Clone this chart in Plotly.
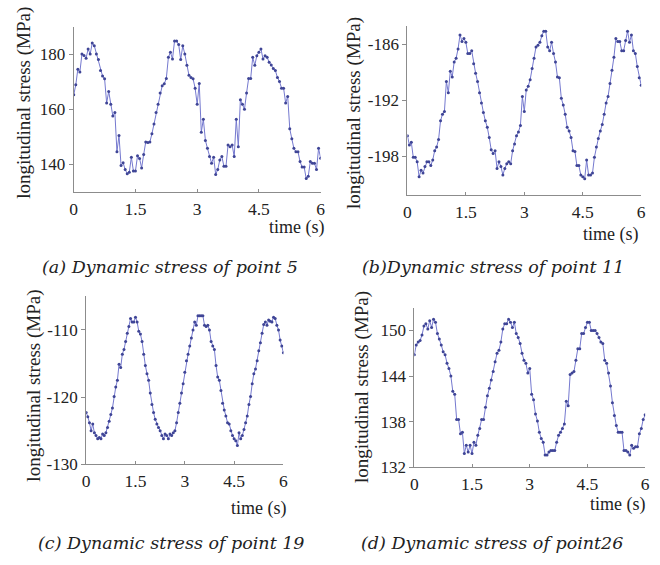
import plotly.graph_objects as go

# sampling: 0.05 s steps, 0 .. 6 s
time_s = [round(i * 0.05, 2) for i in range(121)]

stress_p5 = [
    165.2, 168.8, 174.5, 173.5, 180.0, 179.5, 178.5, 181.8, 180.0, 184.0,
    183.0, 180.0, 178.0, 174.0, 172.0, 171.0, 162.2, 166.4, 161.7, 157.5,
    158.7, 144.5, 150.4, 139.5, 140.5, 138.0, 136.5, 137.0, 142.5, 137.5,
    137.5, 143.0, 142.0, 138.6, 143.5, 148.0, 147.8, 148.0, 151.0, 154.6,
    158.7, 161.7, 165.8, 168.5, 169.2, 171.1, 178.8, 180.6, 178.2, 184.7,
    184.7, 183.5, 178.0, 183.0, 180.0, 175.9, 172.3, 171.5, 171.0, 167.6,
    161.7, 169.3, 151.6, 156.3, 148.6, 145.7, 142.7, 140.3, 142.5, 136.2,
    138.0, 141.5, 142.7, 139.2, 139.2, 146.9, 146.3, 146.9, 142.7, 156.3,
    146.3, 163.4, 161.7, 159.9, 165.8, 171.1, 171.1, 178.8, 175.9, 179.4,
    180.6, 181.8, 178.2, 179.4, 178.8, 177.0, 176.0, 174.7, 174.0, 171.5,
    170.0, 167.6, 167.6, 162.2, 164.6, 152.8, 149.2, 145.7, 144.5, 144.5,
    140.9, 138.9, 138.9, 134.7, 135.6, 140.9, 140.3, 140.3, 138.0, 145.7,
    142.1,
]

stress_p11 = [
    -195.8, -196.8, -196.5, -198.1, -198.1, -198.6, -200.2, -199.5, -199.8, -199.1,
    -198.6, -198.6, -199.0, -198.4, -197.4, -197.0, -196.2, -194.2, -193.5, -193.2,
    -190.0, -191.2, -188.9, -189.5, -187.9, -187.5, -186.5, -185.0, -185.7, -185.4,
    -185.8, -187.0, -187.0, -186.7, -188.1, -189.1, -190.0, -191.2, -192.3, -193.3,
    -194.2, -194.9, -196.0, -197.3, -197.7, -197.4, -199.3, -198.6, -199.1, -200.0,
    -199.3, -198.8, -198.6, -198.8, -197.4, -196.7, -195.8, -195.4, -194.7, -191.6,
    -193.2, -190.9, -190.5, -189.8, -188.6, -187.5, -186.3, -186.1, -185.8, -185.1,
    -184.6, -184.6, -186.3, -186.7, -185.8, -187.0, -187.9, -189.5, -189.6, -191.8,
    -192.5, -193.5, -194.9, -195.3, -196.0, -197.4, -197.5, -199.0, -199.0, -200.0,
    -200.2, -200.4, -198.4, -200.0, -200.0, -199.8, -198.1, -197.0, -196.1, -195.3,
    -194.6, -193.5, -192.3, -191.6, -190.2, -188.8, -187.4, -185.4, -185.7, -185.7,
    -186.7, -186.7, -185.6, -184.6, -185.8, -185.0, -186.7, -187.0, -188.4, -189.6,
    -190.4,
]

stress_p19 = [
    -122.3, -122.9, -123.8, -125.0, -124.0, -125.3, -125.7, -126.2, -126.0, -126.2,
    -125.5, -125.7, -125.3, -124.5, -123.6, -122.6, -121.6, -119.9, -118.5, -117.5,
    -115.1, -115.6, -113.6, -112.9, -111.7, -110.5, -109.5, -108.3, -108.8, -108.8,
    -108.1, -108.8, -110.2, -110.6, -111.7, -113.6, -115.3, -116.5, -117.5, -119.4,
    -121.1, -122.3, -123.3, -124.0, -124.5, -125.0, -125.7, -126.2, -125.5, -125.7,
    -126.2, -125.5, -125.7, -125.3, -125.0, -123.8, -122.3, -120.9, -119.4, -118.0,
    -116.3, -114.6, -113.6, -112.4, -111.2, -110.0, -108.8, -109.3, -107.9, -107.9,
    -107.9, -107.9, -109.3, -109.5, -109.3, -110.0, -111.7, -112.4, -112.9, -115.3,
    -117.0, -117.5, -119.0, -120.9, -121.9, -122.8, -123.8, -124.0, -125.0, -125.7,
    -126.2, -126.5, -127.2, -125.3, -126.2, -125.7, -124.8, -123.8, -122.8, -121.1,
    -119.9, -118.0, -116.5, -115.8, -114.6, -113.1, -111.9, -110.5, -109.2, -108.8,
    -109.3, -108.5, -108.7, -108.8, -108.1, -108.3, -109.3, -110.0, -111.5, -112.4,
    -113.4,
]

stress_p26 = [
    146.8, 148.1, 148.5, 148.7, 149.4, 150.6, 150.9, 150.2, 151.3, 150.4,
    151.5, 151.1, 149.6, 148.9, 148.1, 147.2, 146.8, 145.7, 145.0, 144.0,
    142.0, 141.6, 138.3, 138.3, 136.4, 136.6, 133.8, 134.9, 134.0, 134.9,
    133.8, 135.3, 134.9, 136.2, 137.1, 138.3, 138.3, 139.9, 141.4, 142.4,
    143.5, 144.6, 145.9, 147.0, 147.4, 148.5, 150.2, 150.9, 150.9, 151.5,
    151.1, 150.4, 151.1, 149.6, 149.1, 148.3, 147.0, 146.1, 145.7, 144.4,
    145.0, 141.6, 140.9, 139.0, 138.1, 136.6, 135.8, 135.3, 133.6, 133.6,
    134.0, 134.2, 134.2, 134.2, 135.3, 136.2, 136.6, 137.1, 137.7, 140.7,
    140.1, 144.2, 144.4, 144.6, 146.1, 147.6, 147.6, 149.6, 149.6, 150.4,
    151.1, 151.1, 150.0, 150.0, 150.0, 149.6, 149.1, 148.5, 148.3, 146.1,
    145.7, 144.4, 142.7, 140.5, 138.8, 137.5, 136.6, 136.6, 136.6, 134.2,
    134.2, 134.0, 133.6, 134.9, 134.5, 134.7, 134.7, 136.4, 137.1, 138.3,
    138.9,
]

x_ticks = [0, 1.5, 3, 4.5, 6]
x_tick_text = ["0", "1.5", "3", "4.5", "6"]
y_ticks_a = [140, 160, 180]
y_ticks_b = [-198, -192, -186]
y_ticks_c = [-130, -120, -110]
y_ticks_d = [132, 138, 144, 150]

captions = [
    "(a) Dynamic stress of point 5",
    "(b)Dynamic stress of point 11",
    "(c) Dynamic stress of point 19",
    "(d) Dynamic stress of point26",
]

W, H = 660, 565
SERIF = "Liberation Serif, Times New Roman, serif"
CAP_FONT = "DejaVu Serif, serif"
LINE_COLOR = "#7579cf"
MARK_COLOR = "#3f4596"
AXIS_COLOR = "#8c8c8c"
TXT = "#222"

# panel geometry in pixels: (x0, x1, ytop, ybottom)
panels = [
    dict(data=stress_p5, yr=[130, 190], yt=y_ticks_a, px=(70.7, 321), py=(27, 195),
         ytitle=(20, 105), timelbl=(327, 232), cap=(168, 272)),
    dict(data=stress_p11, yr=[-202.2, -184], yt=y_ticks_b, px=(409, 646), py=(26, 199),
         ytitle=(355, 115), timelbl=(646, 239), cap=(496, 272)),
    dict(data=stress_p19, yr=[-130, -105], yt=y_ticks_c, px=(83.3, 283.3), py=(301.7, 472.7),
         ytitle=(30, 393), timelbl=(289, 518), cap=(170, 553)),
    dict(data=stress_p26, yr=[132, 153], yt=y_ticks_d, px=(416, 650), py=(313.3, 475.7),
         ytitle=(363, 394), timelbl=(653, 514), cap=(495, 553)),
]

fig = go.Figure()
annotations = []
layout = {}
for i, p in enumerate(panels, start=1):
    sfx = "" if i == 1 else str(i)
    fig.add_trace(go.Scatter(
        x=time_s, y=p["data"], mode="lines+markers",
        line=dict(color=LINE_COLOR, width=1),
        marker=dict(color=MARK_COLOR, size=3),
        xaxis="x" + sfx, yaxis="y" + sfx, showlegend=False, hoverinfo="x+y",
    ))
    layout["xaxis" + sfx] = dict(
        domain=[p["px"][0] / W, p["px"][1] / W], range=[0, 6],
        anchor="y" + sfx, tickvals=x_ticks, ticktext=x_tick_text,
        showline=True, linecolor=AXIS_COLOR, linewidth=1, mirror=False,
        ticks="inside", ticklen=3, tickcolor=AXIS_COLOR,
        showgrid=False, zeroline=False,
        tickfont=dict(family=SERIF, size=17.5, color=TXT),
        ticklabelstandoff=1,
    )
    layout["yaxis" + sfx] = dict(
        domain=[(H - p["py"][1]) / H, (H - p["py"][0]) / H], range=p["yr"],
        anchor="x" + sfx, tickvals=p["yt"], ticktext=[str(v) for v in p["yt"]],
        showline=True, linecolor=AXIS_COLOR, linewidth=1,
        ticks="outside", ticklen=4, tickcolor=AXIS_COLOR,
        showgrid=False, zeroline=False,
        tickfont=dict(family=SERIF, size=17, color=TXT),
    )
    annotations.append(dict(
        text="longitudinal stress (MPa)", x=p["ytitle"][0] / W, y=(H - p["ytitle"][1]) / H,
        xref="paper", yref="paper", showarrow=False, textangle=-90,
        xanchor="center", yanchor="middle",
        font=dict(family=SERIF, size=19, color=TXT),
    ))
    annotations.append(dict(
        text="time (s)", x=p["timelbl"][0] / W, y=(H - p["timelbl"][1]) / H,
        xref="paper", yref="paper", showarrow=False,
        xanchor="right", yanchor="middle",
        font=dict(family=SERIF, size=18, color=TXT),
    ))
    annotations.append(dict(
        text="<i>" + captions[i - 1] + "</i>", x=p["cap"][0] / W, y=(H - p["cap"][1]) / H,
        xref="paper", yref="paper", showarrow=False,
        xanchor="center", yanchor="middle",
        font=dict(family=CAP_FONT, size=17.5, color=TXT),
    ))

fig.update_layout(
    width=W, height=H, margin=dict(l=0, r=0, t=0, b=0),
    paper_bgcolor="white", plot_bgcolor="white",
    annotations=annotations, **layout,
)

fig.write_html(
    "out.html",
    config={"displayModeBar": False},
    post_script="document.body.style.margin='0';document.body.style.overflow='hidden';",
)
